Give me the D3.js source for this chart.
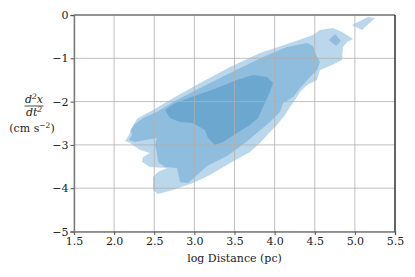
<!DOCTYPE html>
<html>
<head>
<meta charset="UTF-8">
<script src="https://d3js.org/d3.v7.min.js"></script>
<style>
  body { margin: 0; background: #fff; }
  svg text { font-family: "DejaVu Serif", serif; fill: #222; }
</style>
</head>
<body>
<div id="chart"></div>
<script>
// axis ticks
const xTicks = [1.5, 2.0, 2.5, 3.0, 3.5, 4.0, 4.5, 5.0, 5.5];
const yTicks = [0, -1, -2, -3, -4, -5];

// contour outlines [log distance, acceleration]
const lowLevel = [
  [2.136,-2.910],[2.185,-2.771],[2.210,-2.633],[2.248,-2.517],[2.285,-2.402],[2.347,-2.333],
  [2.484,-2.194],[2.759,-1.894],[3.070,-1.570],[3.444,-1.201],[3.818,-0.878],[4.192,-0.647],
  [4.478,-0.462],[4.565,-0.346],[4.727,-0.300],[4.840,-0.393],[4.977,-0.554],[4.902,-0.624],
  [4.852,-0.739],[4.840,-1.039],[4.715,-1.155],[4.565,-1.270],[4.528,-1.501],[4.403,-1.617],
  [4.316,-1.778],[4.254,-1.963],[4.192,-2.125],[4.129,-2.309],[4.030,-2.540],[3.942,-2.702],
  [3.818,-2.956],[3.693,-3.164],[3.444,-3.418],[3.195,-3.695],[2.983,-3.880],[2.734,-4.042],
  [2.547,-4.134],[2.484,-4.042],[2.484,-3.741],[2.547,-3.626],[2.659,-3.533],[2.447,-3.510],
  [2.347,-3.395],[2.360,-3.279],[2.447,-3.187],[2.322,-3.118],[2.198,-2.956]
];
const lowIsland = [[4.964,-0.231],[5.089,-0.346],[5.251,-0.069],[5.164,-0.046]];

const midLevel = [
  [2.185,-2.887],[2.223,-2.771],[2.210,-2.656],[2.248,-2.540],[2.310,-2.448],[2.385,-2.356],
  [2.534,-2.240],[2.759,-1.986],[3.070,-1.686],[3.444,-1.339],[3.855,-0.970],[4.154,-0.739],
  [4.403,-0.647],[4.478,-0.716],[4.516,-0.924],[4.565,-1.085],[4.528,-1.270],[4.453,-1.409],
  [4.316,-1.686],[4.229,-1.894],[4.104,-2.032],[4.067,-2.240],[3.942,-2.471],[3.793,-2.702],
  [3.631,-2.956],[3.407,-3.256],[3.157,-3.487],[3.020,-3.718],[2.921,-3.880],[2.821,-3.857],
  [2.784,-3.533],[2.634,-3.510],[2.547,-3.395],[2.534,-3.187],[2.509,-3.002],[2.534,-2.841],
  [2.385,-2.887],[2.260,-2.933]
];
const midIsland = [[4.678,-0.577],[4.752,-0.439],[4.827,-0.600],[4.765,-0.716]];

const highLevel = [
  [2.634,-2.194],[2.759,-2.032],[3.033,-1.848],[3.282,-1.686],[3.531,-1.501],[3.731,-1.386],
  [3.905,-1.432],[3.980,-1.570],[3.942,-1.778],[3.855,-2.125],[3.793,-2.379],[3.693,-2.540],
  [3.531,-2.725],[3.357,-2.933],[3.257,-3.002],[3.170,-2.841],[3.132,-2.656],[2.983,-2.494],
  [2.821,-2.471],[2.696,-2.379]
];

const margin = {top: 15, right: 20, bottom: 45.5, left: 74},
      width = 415 - margin.left - margin.right,
      height = 277 - margin.top - margin.bottom;

const svg = d3.select("#chart").append("svg")
  .attr("width", 415).attr("height", 277);
const g = svg.append("g").attr("transform", `translate(${margin.left},${margin.top})`);

const x = d3.scaleLinear().domain([1.5, 5.5]).range([0, width]);
const y = d3.scaleLinear().domain([-5, 0]).range([height, 0]);

const line = d3.line().x(d => x(d[0])).y(d => y(d[1])).curve(d3.curveLinearClosed);

// filled levels
const levels = [
  {shapes: [lowLevel, lowIsland], color: "#bad7ec"},
  {shapes: [midLevel, midIsland], color: "#8fbddd"},
  {shapes: [highLevel], color: "#6ca7d0"}
];
levels.forEach(l => {
  l.shapes.forEach(s => {
    g.append("path").attr("d", line(s)).attr("fill", l.color).attr("stroke", "none");
  });
});

// grid on top
g.selectAll(".vgrid").data(xTicks).enter().append("line")
  .attr("x1", d => x(d)).attr("x2", d => x(d))
  .attr("y1", 0).attr("y2", height)
  .attr("stroke", "#b0b0b0").attr("stroke-opacity", 0.8).attr("stroke-width", 1);
g.selectAll(".hgrid").data(yTicks).enter().append("line")
  .attr("x1", 0).attr("x2", width)
  .attr("y1", d => y(d)).attr("y2", d => y(d))
  .attr("stroke", "#b0b0b0").attr("stroke-opacity", 0.8).attr("stroke-width", 1);

const fmt = d => d3.format(".1f")(d);
const xAxis = g.append("g").attr("transform", `translate(0,${height})`)
  .call(d3.axisBottom(x).tickValues(xTicks).tickFormat(fmt).tickSizeOuter(0).tickSize(3.5).tickPadding(2));
const yAxis = g.append("g")
  .call(d3.axisLeft(y).tickValues(yTicks).tickFormat(d => d === 0 ? "0" : "\u2212" + Math.abs(d)).tickSizeOuter(0).tickSize(3.5).tickPadding(2));
[xAxis, yAxis].forEach(a => {
  a.select(".domain").attr("stroke", "#7a7a7a").attr("stroke-width", 1.4);
  a.selectAll(".tick line").attr("stroke", "#555");
  a.selectAll("text").style("font-size", "11px").style("font-family", "DejaVu Serif").attr("fill", "#222");
});

// top and right spines
g.append("line").attr("x1", 0).attr("x2", width).attr("y1", 0).attr("y2", 0)
  .attr("stroke", "#7a7a7a").attr("stroke-width", 1.4);
g.append("line").attr("x1", width).attr("x2", width).attr("y1", 0).attr("y2", height)
  .attr("stroke", "#111").attr("stroke-width", 1.2);

// axis labels
svg.append("text").attr("x", margin.left + width / 2).attr("y", 262)
  .attr("text-anchor", "middle").style("font-size", "11px").text("log Distance (pc)");

const yl = svg.append("g").attr("transform", "translate(34,0)");
yl.append("text").attr("x", 0).attr("y", 103).attr("text-anchor", "middle")
  .style("font-size", "11px").style("font-style", "italic")
  .html('d<tspan dy="-4" font-size="7.5">2</tspan><tspan dy="4">x</tspan>');
yl.append("line").attr("x1", -9.5).attr("x2", 9.5).attr("y1", 106).attr("y2", 106)
  .attr("stroke", "#222").attr("stroke-width", 0.8);
yl.append("text").attr("x", 0).attr("y", 116).attr("text-anchor", "middle")
  .style("font-size", "11px").style("font-style", "italic")
  .html('dt<tspan dy="-4" font-size="7.5">2</tspan>');
yl.append("text").attr("x", -2).attr("y", 132).attr("text-anchor", "middle")
  .style("font-size", "11px")
  .html('(cm s<tspan dy="-4" font-size="7.5">\u22122</tspan><tspan dy="4">)</tspan>');
</script>
</body>
</html>
